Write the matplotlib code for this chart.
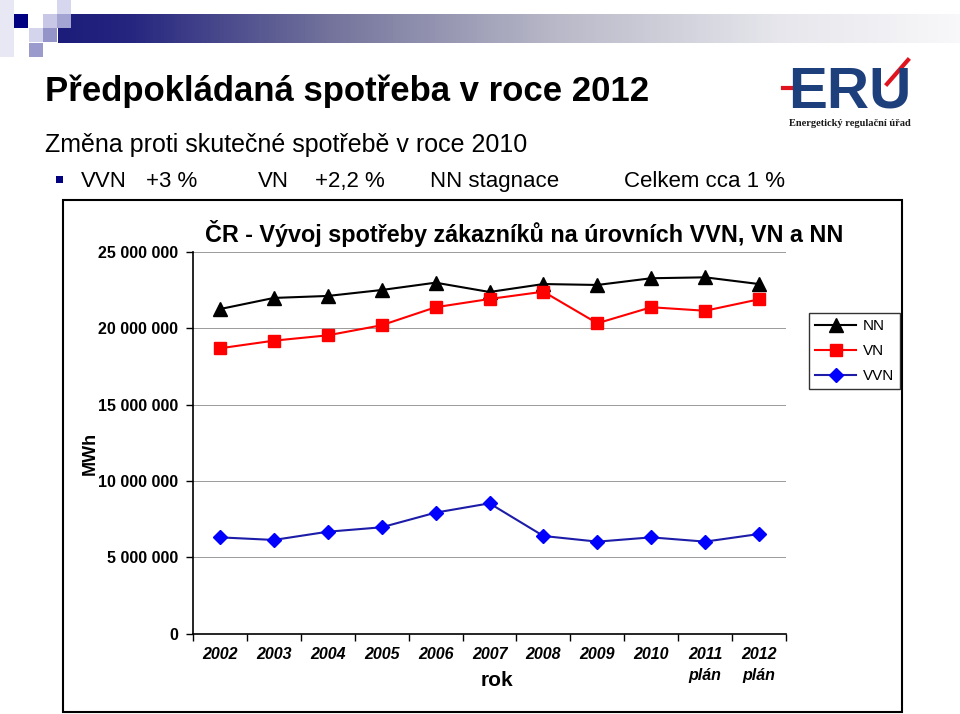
import numpy as np
import matplotlib
matplotlib.use("Agg")
import matplotlib.pyplot as plt
import matplotlib.patches as patches
import matplotlib.lines as mlines
from matplotlib.colors import LinearSegmentedColormap
from matplotlib.ticker import FuncFormatter, FixedLocator

# ================================
# DATA (MWh)
# ================================
years = ["2002", "2003", "2004", "2005", "2006", "2007", "2008", "2009", "2010", "2011\nplán", "2012\nplán"]
nn = [21260000, 21990000, 22120000, 22510000, 22990000, 22380000, 22900000, 22840000, 23280000, 23340000, 22900000]
vn = [18690000, 19190000, 19540000, 20200000, 21380000, 21920000, 22400000, 20330000, 21380000, 21150000, 21900000]
vvn = [6300000, 6130000, 6670000, 6960000, 7920000, 8530000, 6390000, 6020000, 6300000, 6020000, 6520000]
y_ticks = [0, 5000000, 10000000, 15000000, 20000000, 25000000]

W, H = 960, 714
plt.rcParams["font.family"] = ["Liberation Sans", "DejaVu Sans"]


def px(x, y):
    return x / W, 1 - y / H


fig = plt.figure(figsize=(W / 100, H / 100), dpi=100)
fig.patch.set_facecolor("white")

# ================================
# SLIDE DECORATION
# ================================
# gradient banner
band = fig.add_axes([58 / W, 1 - 43 / H, (W - 58) / W, 29 / H])
cmap = LinearSegmentedColormap.from_list(
    "band", [(0, "#1c1c7a"), (0.08, "#262680"), (0.3, "#73739c"), (0.55, "#b8b8c8"), (0.8, "#e6e6ec"), (1, "#f8f8fa")])
band.imshow(np.linspace(0, 1, 256)[None, :], aspect="auto", cmap=cmap, extent=[0, 1, 0, 1])
band.axis("off")

# left pale strip
fig.patches.append(patches.Rectangle(px(0, 57), 14 / W, 57 / H, transform=fig.transFigure,
                                     facecolor="#e8e8f4", edgecolor="none"))
squares = [
    (14, 14, "#000080"),
    (43, 14, "#c8c8e6"),
    (57, 0, "#d6d6ee"),
    (57, 14, "#a4a4d2"),
    (29, 28, "#d4d4ec"),
    (43, 28, "#9494c8"),
    (29, 43, "#9a9acc"),
]
for sx, sy, c in squares:
    fig.patches.append(patches.Rectangle(px(sx, sy + 14), 14 / W, 14 / H, transform=fig.transFigure,
                                         facecolor=c, edgecolor="none"))

# titles
fig.text(*px(45, 91), "Předpokládaná spotřeba v roce 2012", fontsize=25, fontweight="bold",
         va="center", ha="left")
fig.text(*px(45, 145), "Změna proti skutečné spotřebě v roce 2010", fontsize=18, va="center", ha="left")
fig.patches.append(patches.Rectangle(px(56, 183), 7 / W, 7 / H, transform=fig.transFigure,
                                     facecolor="#000080", edgecolor="none"))
bullet_parts = [(81, "VVN"), (146, "+3 %"), (258, "VN"), (315, "+2,2 %"), (430, "NN stagnace"), (624, "Celkem cca 1 %")]
for bx, txt in bullet_parts:
    fig.text(*px(bx, 187), txt, fontsize=16, va="baseline", ha="left")

# ERU logo
fig.text(*px(788, 108), "ERU", fontsize=42, fontweight="bold", color="#1d3f7c",
         va="baseline", ha="left")
fig.lines.append(mlines.Line2D([783 / W, 818 / W], [1 - 88 / H, 1 - 88 / H], transform=fig.transFigure,
                               color="#e0141e", linewidth=3))
fig.lines.append(mlines.Line2D([887 / W, 908 / W], [1 - 84 / H, 1 - 60 / H], transform=fig.transFigure,
                               color="#e0141e", linewidth=3))
fig.text(*px(850, 124), "Energetický regulační úřad", fontsize=7.5, fontweight="bold", color="#1a1a1a",
         va="center", ha="center", family=["Liberation Serif", "DejaVu Serif"])

# chart frame
fig.patches.append(patches.Rectangle(px(63, 712), 839 / W, 512 / H, transform=fig.transFigure,
                                     facecolor="none", edgecolor="black", linewidth=1.5))

# ================================
# CHART
# ================================
ax = fig.add_axes([193 / W, 1 - 633.5 / H, 593 / W, 381.5 / H])
x = np.arange(len(years))

ax.plot(x, nn, color="black", linewidth=1.5, marker="^", markersize=9.5, label="NN", zorder=4)
ax.plot(x, vn, color="#ff0000", linewidth=1.5, marker="s", markersize=8, label="VN", zorder=4)
ax.plot(x, vvn, color="#1c1ca8", linewidth=1.5, marker="D", markersize=7,
        markerfacecolor="#0000ff", markeredgecolor="#0000ff", label="VVN", zorder=4)

ax.set_xlim(-0.5, len(years) - 0.5)
ax.set_ylim(0, 25000000)
ax.set_yticks(y_ticks)
ax.yaxis.set_major_formatter(FuncFormatter(lambda v, p: f"{int(v):,}".replace(",", " ")))
for lab in ax.get_yticklabels():
    lab.set_fontweight("bold")
ax.tick_params(axis="y", labelsize=11.5, length=5, width=1, pad=5.5)
ax.grid(axis="y", color="#9a9a9a", linewidth=0.7)
ax.set_axisbelow(True)

# category boundaries as ticks, labels at centres
ax.xaxis.set_major_locator(FixedLocator(np.arange(-0.5, len(years), 1.0)))
ax.xaxis.set_minor_locator(FixedLocator(x))
ax.set_xticklabels([])
ax.set_xticklabels(years, minor=True, fontsize=11.5, fontweight="bold", style="italic", linespacing=1.45)
ax.tick_params(axis="x", which="major", length=5, width=1, direction="out")
ax.tick_params(axis="x", which="minor", length=0, pad=10)
for lab in ax.get_xticklabels(minor=True):
    lab.set_va("top")

for side in ["top", "right"]:
    ax.spines[side].set_visible(False)
ax.spines["left"].set_linewidth(1.2)
ax.spines["bottom"].set_linewidth(1.2)

fig.text(*px(497, 680), "rok", fontsize=15, fontweight="bold", ha="center", va="center")
fig.text(*px(90, 453), "MWh", fontsize=13, fontweight="bold", ha="center", va="center", rotation=90)
fig.text(*px(205, 234), "ČR - Vývoj spotřeby zákazníků na úrovních VVN, VN a NN", fontsize=16.8,
         fontweight="bold", ha="left", va="center")

fig.legend(loc="upper left", bbox_to_anchor=px(809, 313), fontsize=11, frameon=True, fancybox=False,
           edgecolor="black", handlelength=2.7, labelspacing=0.72, borderpad=0.4, handletextpad=0.4,
           borderaxespad=0).get_frame().set_linewidth(1.0)

plt.savefig("out.png", dpi=100, facecolor="white")
